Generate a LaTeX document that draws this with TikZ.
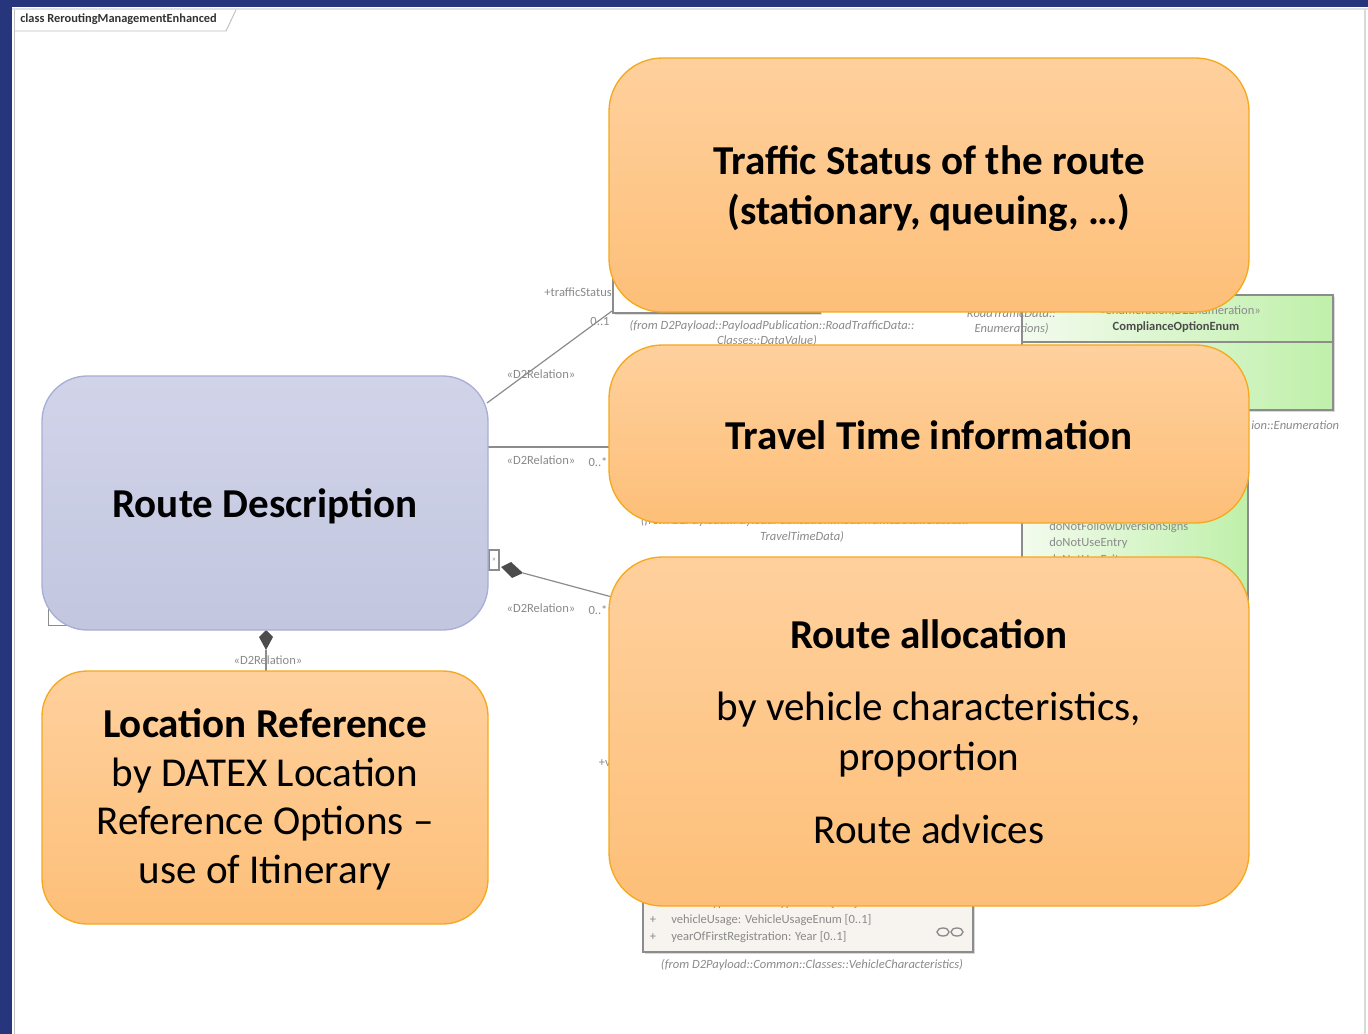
\documentclass[tikz,border=0pt]{standalone}
\usepackage{fontspec}
\setmainfont{Carlito}
\usetikzlibrary{shapes.geometric,shadows}
\definecolor{frameblue}{HTML}{27357C}
\definecolor{umlgray}{HTML}{8A8A8A}
\definecolor{umlline}{HTML}{8C8C8C}
\definecolor{orTop}{HTML}{FFD09D}
\definecolor{orBot}{HTML}{FDBF78}
\definecolor{orEdge}{HTML}{F5A91E}
\definecolor{lavTop}{HTML}{D1D4E9}
\definecolor{lavBot}{HTML}{C2C6DF}
\definecolor{lavEdge}{HTML}{A9AED6}
\definecolor{grL}{HTML}{F3FBEE}
\definecolor{grR}{HTML}{BFF0AA}
\definecolor{beige}{HTML}{F7F4EF}
\tikzset{
  umltxt/.style={text=umlgray, font=\fontsize{9.4}{11}\selectfont, inner sep=0pt},
  umlit/.style={umltxt, font=\fontsize{9.4}{11}\selectfont\itshape},
  umlbox/.style={draw=umlline, line width=0.8pt},
  orbox/.style={draw=orEdge, line width=1pt, top color=orTop, bottom color=orBot,
    rounded corners=40pt, inner sep=0pt, align=center,
    font=\fontsize{30.8}{37.5}\selectfont},
  lavbox/.style={draw=lavEdge, line width=1pt, top color=lavTop, bottom color=lavBot,
    rounded corners=34pt, inner sep=0pt, align=center,
    font=\fontsize{30.8}{37.5}\selectfont\bfseries},
  conn/.style={draw=umlline, line width=0.9pt}
}
\begin{document}
\begin{tikzpicture}[x=0.75pt,y=-0.75pt]
\useasboundingbox (0,0) rectangle (1368,1034);
\fill[white] (0,0) rectangle (1368,1034);
% slide frame
\fill[frameblue] (0,0) rectangle (1368,7);
\fill[frameblue] (0,0) rectangle (12,1034);
\draw[black!12, line width=1pt] (12,9) -- (1368,9);
\draw[black!15, line width=1pt] (1365,9) -- (1365,1034);
% UML frame tab
\draw[black!25, line width=0.7pt] (14,10) -- (14,1034);
\draw[black!25, line width=0.7pt] (14,31) -- (226,31) -- (236,10);
\node[anchor=west, inner sep=0pt, text=black!80, font=\fontsize{9.3}{11}\selectfont\bfseries] (title) at (20,19) {class ReroutingManagementEnhanced};

% background UML classes
\node[umlbox, fill=white, minimum width=155.25pt, minimum height=60pt, drop shadow={opacity=0.25,shadow xshift=1.5pt,shadow yshift=-1.5pt}] (datavalue) at (716.5,273) {};
\node[umlbox, fill=white, minimum width=165pt, minimum height=60pt] (traveltime) at (800,480) {};
\node[umlbox, fill=white, minimum width=40pt, minimum height=50pt] (hidden) at (75,592) {};
\node[umlbox, left color=grL, right color=grR, minimum width=233.25pt, minimum height=86.25pt, inner sep=0pt, drop shadow={opacity=0.3,shadow xshift=1.5pt,shadow yshift=-1.5pt}] (compl) at (1177.5,352.5) {};
\draw[umlline, line width=0.8pt] (1022,342) -- (1333,342);
\node[umlbox, left color=grL, right color=grR, minimum width=169.5pt, minimum height=187.5pt, inner sep=0pt] (accessenum) at (1135,575) {};
\node[umlbox, fill=beige, minimum width=247.5pt, minimum height=75pt, inner sep=0pt, drop shadow={opacity=0.3,shadow xshift=1.5pt,shadow yshift=-1.5pt}] (vehchar) at (808,902) {};

% UML texts
\node[umltxt, anchor=east] (tsrole) at (612,292) {+trafficStatus};
\node[umltxt] (tsmult) at (600,321) {0..1};
\node[umltxt] (rel1) at (541,374) {«D2Relation»};
\node[umlit] (dvfrom1) at (772,326) {(from D2Payload::PayloadPublication::RoadTrafficData::};
\node[umlit] (dvfrom2) at (767,341) {Classes::DataValue)};
\node[umlit, anchor=east] (enfrom1) at (1056,313) {RoadTrafficData::};
\node[umlit, anchor=east] (enfrom2) at (1049,329) {Enumerations)};
\node[umltxt] (complst) at (1180,311) {«enumeration,D2Enumeration»};
\node[umltxt, text=black!70, font=\fontsize{9.4}{11}\selectfont\bfseries] (complname) at (1176,327) {ComplianceOptionEnum};
\node[umlit, anchor=west] (complfrom) at (1251,425) {ion::Enumeration};
\node[umltxt] (rel2) at (541,460) {«D2Relation»};
\node[umltxt] (mult2) at (598,462) {0..*};
\node[umlit] (ttfrom1) at (805,521) {(from D2Payload::PayloadPublication::RoadTrafficData::Classes::};
\node[umlit] (ttfrom2) at (802,537) {TravelTimeData)};
\node[umltxt, anchor=west] (lit1) at (1049,527) {doNotFollowDiversionSigns};
\node[umltxt, anchor=west] (lit2) at (1049,543) {doNotUseEntry};
\node[umltxt, anchor=west] (lit3) at (1049,559) {doNotUseExit};
\node[umltxt] (rel3) at (541,608) {«D2Relation»};
\node[umltxt] (mult3) at (598,610) {0..*};
\node[umltxt, fill=white, inner sep=1pt] (rel4) at (268,660) {«D2Relation»};
\node[umltxt, anchor=east] (vrole) at (611,763) {+v};
\node[umltxt] (b1) at (653,903) {+};
\node[umltxt] (b2) at (653,920) {+};
\node[umltxt] (b3) at (653,937) {+};
\node[umltxt, anchor=west] (a1) at (671,903) {vehicleType: VehicleTypeEnum [0..*]};
\node[umltxt, anchor=west] (a2) at (671,920) {vehicleUsage: VehicleUsageEnum [0..1]};
\node[umltxt, anchor=west] (a3) at (671,937) {yearOfFirstRegistration: Year [0..1]};
\node[umlit] (vcfrom) at (812,965) {(from D2Payload::Common::Classes::VehicleCharacteristics)};
\draw[umlgray, line width=1pt] (943,932) ellipse (6 and 4) (957,932) ellipse (6 and 4);

% small qualifier box and composition diamond
\node[umlbox, fill=white, minimum width=7.5pt, minimum height=15pt, inner sep=0pt, font=\fontsize{6}{7}\selectfont, text=umlgray] (qual) at (494,560) {»};
\fill[black!70] (501,567) -- (511,562) -- (523,573) -- (512,578) -- cycle;
\coordinate (diamR) at (523,573);
\coordinate (raL) at (612,597);
\draw[conn] (diamR) -- (raL);
% composition diamond below Route Description
\fill[black!70] (266,630) -- (259,637) -- (266,650) -- (273,637) -- cycle;
\coordinate (diamB) at (266,650);
\coordinate (lrT) at (266,671);

% connectors from Route Description
\coordinate (rdTR) at (487,403);
\coordinate (dvC) at (612,311);
\draw[conn] (rdTR) -- (dvC);
\coordinate (rdR) at (488,447);
\coordinate (ttL) at (610,447);
\draw[conn] (rdR) -- (ttL);
\draw[conn] (diamB) -- (lrT);

% main boxes
\node[orbox, minimum width=480pt, minimum height=190.5pt, font=\fontsize{30.8}{37.5}\selectfont\bfseries] (traffic) at (929,185) {};
\node[align=center, inner sep=0pt, font=\fontsize{30.8}{37.5}\selectfont\bfseries] (traffictxt) at (929,189) {Traffic Status of the route\\(stationary, queuing, …)};
\node[orbox, minimum width=480pt, minimum height=133.5pt, font=\fontsize{30.8}{37.5}\selectfont\bfseries] (travel) at (929,434) {};
\node[inner sep=0pt, font=\fontsize{30.8}{37.5}\selectfont\bfseries] (traveltxt) at (929,435) {Travel Time information};
\node[orbox, minimum width=480pt, minimum height=261.75pt] (alloc) at (929,731.5) {\textbf{Route allocation}\\[17pt]by vehicle characteristics,\\proportion\\[17pt]Route advices};
\node[lavbox, minimum width=334.5pt, minimum height=190.5pt] (route) at (265,503) {};
\node[inner sep=0pt, font=\fontsize{30.8}{37.5}\selectfont\bfseries] (routetxt) at (265,506) {Route Description};
\node[orbox, rounded corners=34pt, minimum width=334.5pt, minimum height=189.75pt] (locref) at (265,797.5) {};
\node[align=center, inner sep=0pt, font=\fontsize{30.8}{36.5}\selectfont] (locreftxt) at (265,799.5) {\textbf{Location Reference}\\by DATEX Location\\Reference Options –\\use of Itinerary};
\end{tikzpicture}
\end{document}
